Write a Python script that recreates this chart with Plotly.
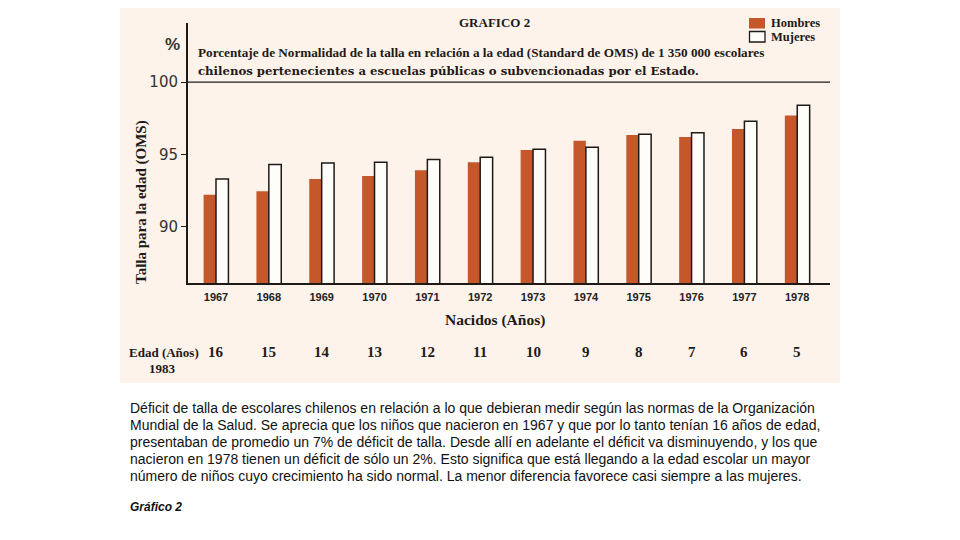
import plotly.graph_objects as go

# ---- data ----
years = ["1967", "1968", "1969", "1970", "1971", "1972", "1973", "1974", "1975", "1976", "1977", "1978"]
hombres = [92.2, 92.45, 93.3, 93.5, 93.9, 94.45, 95.3, 95.95, 96.35, 96.2, 96.75, 97.7]
mujeres = [93.3, 94.3, 94.4, 94.45, 94.65, 94.8, 95.35, 95.5, 96.4, 96.5, 97.3, 98.4]
edades = ["16", "15", "14", "13", "12", "11", "10", "9", "8", "7", "6", "5"]
series_names = ["Hombres", "Mujeres"]
y_ticks = [90, 95, 100]

# ---- layout helpers (screen pixel -> paper); page body has an 8px margin ----
OFF = 8
L, R, T, B = 188, 830, 23, 283
W, H = 960 - OFF, 540 - OFF
def px(x):
    return (x - L) / (R - L)
def py(y):
    return (B - y) / (B - T)

CREAM = "#FDF3EA"
ORANGE = "#C4582B"
WHITE_BAR = "#FFFDF9"
INK = "#1e1a18"
SERIF = "Liberation Serif"

fig = go.Figure()
fig.add_trace(go.Bar(x=years, y=hombres, name=series_names[0], marker=dict(color=ORANGE, line=dict(width=0))))
fig.add_trace(go.Bar(x=years, y=mujeres, name=series_names[1],
                     marker=dict(color=WHITE_BAR, line=dict(color=INK, width=1.5))))

def note(text, x, y, size, family=SERIF, anchor="center", angle=0, color=INK, xref="paper"):
    return dict(text=text, x=x, y=y, xref=xref, yref="paper", showarrow=False, textangle=angle,
                font=dict(family=family, size=size, color=color), xanchor=anchor, yanchor="middle")

ann = [
    note("<b>GRAFICO 2</b>", px(494), py(22), 13),
    note("<b>%</b>", px(172), py(44), 17, family="Liberation Sans", color="#333"),
    note("<b>Porcentaje de Normalidad de la talla en relación a la edad (Standard de OMS) de 1 350 000 escolares</b>",
         px(196), py(52), 13.2, anchor="left"),
    note("<b>chilenos pertenecientes a escuelas públicas o subvencionadas por el Estado.</b>",
         px(196), py(71), 11.7, family="DejaVu Serif", anchor="left"),
    note("<b>Talla para la edad (OMS)</b>", px(141), py(202), 15, angle=-90),
    note("<b>Nacidos (Años)</b>", px(495), py(320), 15.5),
    note("<b>Edad (Años)</b>", px(164), py(352), 13),
    note("<b>1983</b>", px(162), py(368), 13),
    note("<b>" + series_names[0] + "</b>", px(769), py(23), 12.5, anchor="left"),
    note("<b>" + series_names[1] + "</b>", px(769), py(37), 12.5, anchor="left"),
]
for i, e in enumerate(edades):
    ann.append(note("<b>" + e + "</b>", i, py(352), 15, xref="x"))

caption = [
    "Déficit de talla de escolares chilenos en relación a lo que debieran medir según las normas de la Organización",
    "Mundial de la Salud. Se aprecia que los niños que nacieron en 1967 y que por lo tanto tenían 16 años de edad,",
    "presentaban de promedio un 7% de déficit de talla. Desde allí en adelante el déficit va disminuyendo, y los que",
    "nacieron en 1978 tienen un déficit de sólo un 2%. Esto significa que está llegando a la edad escolar un mayor",
    "número de niños cuyo crecimiento ha sido normal. La menor diferencia favorece casi siempre a las mujeres.",
]
for i, line in enumerate(caption):
    ann.append(note(line, px(128), py(408 + 17 * i), 14, family="Liberation Sans", anchor="left", color="#111"))
ann.append(note("<b><i>Gráfico 2</i></b>", px(128), py(507), 12, family="Liberation Sans", anchor="left", color="#111"))

shapes = [
    dict(type="rect", xref="paper", yref="paper", x0=px(120), x1=px(840), y0=py(383), y1=py(0),
         fillcolor=CREAM, line=dict(width=0), layer="below"),
    dict(type="line", xref="paper", yref="y", x0=0, x1=1, y0=100, y1=100,
         line=dict(color=INK, width=1.3)),
    # legend swatches
    dict(type="rect", xref="paper", yref="paper", x0=px(749), x1=px(765), y0=py(28.5), y1=py(18),
         fillcolor=ORANGE, line=dict(width=0)),
    dict(type="rect", xref="paper", yref="paper", x0=px(749.5), x1=px(765), y0=py(42), y1=py(31.5),
         fillcolor=WHITE_BAR, line=dict(color=INK, width=1.3)),
]

fig.update_layout(
    width=W, height=H,
    margin=dict(l=L - OFF, r=960 - R, t=T - OFF, b=540 - B, autoexpand=False),
    paper_bgcolor="white", plot_bgcolor=CREAM,
    barmode="group", bargap=0.53, bargroupgap=0,
    annotations=ann, shapes=shapes,
    showlegend=False,
    xaxis=dict(type="category", range=[-0.53, 11.62], showline=True, linecolor=INK, linewidth=2,
               showgrid=False, ticks="", tickfont=dict(family="Liberation Sans", size=11, color="#222"),
               tickprefix="<b>", ticksuffix="</b>", ticklabelstandoff=3, zeroline=False),
    yaxis=dict(range=[86.09, 104.1], tickvals=y_ticks, showline=True, linecolor=INK, linewidth=2,
               showgrid=False, ticks="outside", ticklen=5, tickcolor=INK, zeroline=False,
               tickfont=dict(family="DejaVu Sans", size=15, color="#333")),
)

fig.write_html("out.html")
